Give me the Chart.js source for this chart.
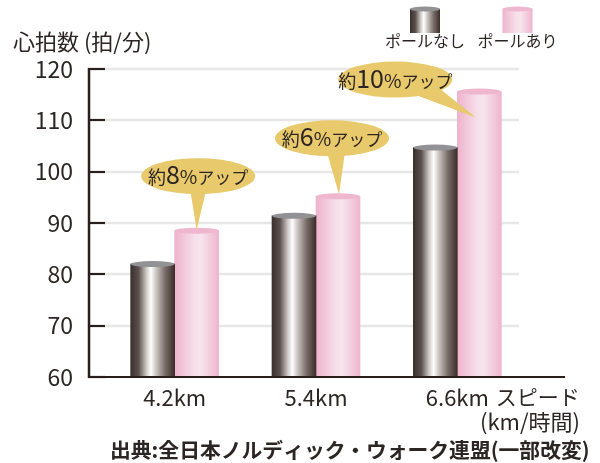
<!DOCTYPE html>
<html><head><meta charset="utf-8">
<script src="https://cdn.jsdelivr.net/npm/chart.js@4.4.1/dist/chart.umd.min.js"></script>
<style>html,body{margin:0;padding:0;background:#fff}#wrap{width:600px;height:463px;position:relative}</style>
</head><body><div id="wrap"><canvas id="c" width="600" height="463"></canvas></div>
<script>
// ---- data ----
const categories = ['4.2km', '5.4km', '6.6km'];
const seriesNames = ['ポールなし', 'ポールあり'];
const withoutPoles = [82, 91.4, 104.7];
const withPoles = [88.5, 95.2, 115.6];
const increasePct = [8, 6, 10];
const yMin = 60, yMax = 120, yStep = 10;
const yTitle = '心拍数 (拍/分)';
const xUnitLine1 = 'スピード';
const xUnitLine2 = '(km/時間)';
const sourceText = '出典:全日本ノルディック・ウォーク連盟(一部改変)';

// ---- styles ----
const FF = '"Noto Sans CJK JP","Noto Sans",sans-serif';
const TXT = '#2b2523';
const AXIS = '#2a1f1c';
const GRID = '#e7e7e7';
const BAR_W = 44;
const DARK_STOPS = [[0,'#3a302e'],[0.18,'#5b504e'],[0.36,'#cfcac8'],[0.46,'#ffffff'],[0.58,'#cbc5c2'],[0.78,'#7a6e6a'],[1,'#3b2e2a']];
const PINK_STOPS = [[0,'#eeb3cc'],[0.45,'#f6dfe9'],[0.6,'#f7e4ec'],[1,'#efb5ce']];
const DARK_TOP = '#929294';
const PINK_TOP = '#efb7ce';
const CALLOUT = '#e8c96b';

function hGrad(ctx, x0, x1, stops) {
  const g = ctx.createLinearGradient(x0, 0, x1, 0);
  stops.forEach(s => g.addColorStop(s[0], s[1]));
  return g;
}
function barFill(stops, side) {
  return c => {
    const ch = c.chart;
    if (!ch.chartArea || c.dataIndex === undefined) return stops[0][1];
    const cx = ch.scales.x.getPixelForValue(c.dataIndex) + side * BAR_W / 2;
    return hGrad(ch.ctx, cx - BAR_W / 2, cx + BAR_W / 2, stops);
  };
}

const axesPlugin = {
  id: 'axesPlugin',
  beforeDatasetsDraw(chart) {
    const {ctx, chartArea: a, scales: {y}} = chart;
    ctx.save();
    ctx.strokeStyle = GRID; ctx.lineWidth = 2.5;
    for (let v = yMin + yStep; v <= yMax; v += yStep) {
      const py = Math.round(y.getPixelForValue(v));
      ctx.beginPath(); ctx.moveTo(a.left, py); ctx.lineTo(a.right - 9, py); ctx.stroke();
    }
    ctx.restore();
  },
  afterDatasetsDraw(chart) {
    const {ctx, chartArea: a, scales: {x, y}} = chart;
    const ax = a.left - 15;
    ctx.save();
    ctx.strokeStyle = AXIS;
    ctx.lineWidth = 2.5;
    ctx.beginPath(); ctx.moveTo(ax, y.getPixelForValue(yMax) - 1); ctx.lineTo(ax, a.bottom + 1); ctx.stroke();
    ctx.lineWidth = 2.2;
    for (let v = yMin; v <= yMax; v += yStep) {
      const py = Math.round(y.getPixelForValue(v));
      ctx.beginPath(); ctx.moveTo(ax - 1, py); ctx.lineTo(a.left + 1, py); ctx.stroke();
    }
    ctx.lineWidth = 1.8;
    ctx.beginPath(); ctx.moveTo(ax, a.bottom); ctx.lineTo(a.right + 37, a.bottom); ctx.stroke();

    // cylinder tops
    [0, 1].forEach(di => {
      chart.getDatasetMeta(di).data.forEach(el => {
        ctx.fillStyle = di === 0 ? DARK_TOP : PINK_TOP;
        ctx.beginPath(); ctx.ellipse(el.x, el.y, el.width / 2, 3, 0, 0, Math.PI * 2); ctx.fill();
      });
    });

    // callouts
    const geo = [
      {ex: 1.5, ey: -54.5, tx: 0, ty: -1, b0: -8, b1: 8},
      {ex: -6, ey: -58, tx: 1, ty: -2, b0: -5, b1: 13},
      {ex: -84, ey: -12, tx: -3.5, ty: 26, b0: 15, b1: 43}
    ];
    const RX = 57, RY = 18;
    chart.getDatasetMeta(1).data.forEach((el, i) => {
      const g = geo[i];
      const cx = el.x + g.ex, cy = el.y + g.ey;
      const by = b => cy + RY * Math.sqrt(Math.max(0, 1 - (b / RX) * (b / RX))) - 4;
      ctx.fillStyle = CALLOUT;
      ctx.beginPath(); ctx.ellipse(cx, cy, RX, RY, 0, 0, Math.PI * 2); ctx.fill();
      ctx.beginPath();
      ctx.moveTo(cx + g.b0, by(g.b0));
      ctx.lineTo(el.x + g.tx, el.y + g.ty);
      ctx.lineTo(cx + g.b1, by(g.b1));
      ctx.closePath(); ctx.fill();
      const parts = [['約', 18], [String(increasePct[i]), 25], ['%', 19], ['アップ', 17]];
      let total = 0;
      parts.forEach(p => { ctx.font = p[1] + 'px ' + FF; p.push(ctx.measureText(p[0]).width); total += p[2]; });
      let px = cx - total / 2;
      ctx.fillStyle = TXT; ctx.textBaseline = 'alphabetic'; ctx.textAlign = 'left';
      parts.forEach(p => { ctx.font = p[1] + 'px ' + FF; ctx.fillText(p[0], px, cy + 8); px += p[2]; });
    });

    // legend
    const legendX = [425, 517.5];
    [DARK_STOPS, PINK_STOPS].forEach((st, i) => {
      const cx = legendX[i], w = 30;
      ctx.fillStyle = hGrad(ctx, cx - w / 2, cx + w / 2, st);
      ctx.fillRect(cx - w / 2, 9, w, 24);
      ctx.fillStyle = i === 0 ? DARK_TOP : PINK_TOP;
      ctx.beginPath(); ctx.ellipse(cx, 9, w / 2, 2.5, 0, 0, Math.PI * 2); ctx.fill();
      ctx.fillStyle = TXT; ctx.font = '16px ' + FF; ctx.textAlign = 'center'; ctx.textBaseline = 'middle';
      ctx.fillText(seriesNames[i], cx, 41);
    });

    // titles
    ctx.fillStyle = TXT;
    ctx.textAlign = 'left'; ctx.textBaseline = 'middle';
    ctx.font = '22px ' + FF;
    ctx.fillText(yTitle, 13, 42);
    ctx.font = '22px ' + FF;
    const lastLabelW = ctx.measureText(categories[categories.length - 1]).width;
    const lx = x.getPixelForValue(categories.length - 1) + lastLabelW / 2 + 7;
    ctx.font = '21px ' + FF;
    ctx.fillText(xUnitLine1, lx, 397);
    ctx.textAlign = 'right';
    ctx.font = '22px ' + FF;
    ctx.fillText(xUnitLine2, 580, 422);
    ctx.textAlign = 'left';
    ctx.font = 'bold 20.8px ' + FF;
    ctx.fillText(sourceText, 110, 450);
    ctx.restore();
  }
};

new Chart(document.getElementById('c'), {
  type: 'bar',
  data: {
    labels: categories,
    datasets: [
      {label: seriesNames[0], data: withoutPoles, backgroundColor: barFill(DARK_STOPS, -1), borderWidth: 0, barThickness: BAR_W},
      {label: seriesNames[1], data: withPoles, backgroundColor: barFill(PINK_STOPS, 1), borderWidth: 0, barThickness: BAR_W}
    ]
  },
  options: {
    responsive: false,
    animation: false,
    devicePixelRatio: 1,
    layout: {padding: {top: 69, right: 72, bottom: 0, left: 0}},
    plugins: {legend: {display: false}, tooltip: {enabled: false}},
    scales: {
      x: {
        grid: {display: false, drawTicks: false},
        border: {display: false},
        ticks: {font: {family: FF, size: 22}, color: TXT, padding: 7},
        afterFit: s => { s.height = 86; }
      },
      y: {
        min: yMin, max: yMax,
        grid: {display: false, drawTicks: false},
        border: {display: false},
        ticks: {stepSize: yStep, font: {family: FF, size: 23}, color: TXT, padding: 31},
        afterFit: s => { s.width = 104; }
      }
    }
  },
  plugins: [axesPlugin]
});
</script>
</body></html>
